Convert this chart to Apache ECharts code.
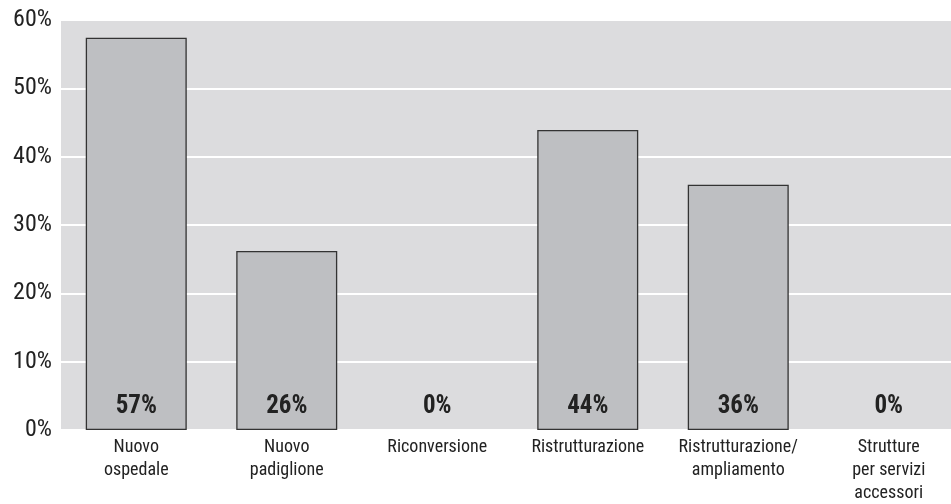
<!DOCTYPE html>
<html><head><meta charset="utf-8">
<script src="https://cdn.jsdelivr.net/npm/echarts@6/dist/echarts.min.js"></script>
<style>html,body{margin:0;padding:0;background:#fff}#c{width:951px;height:504px}</style>
</head><body><div id="c"></div>
<script>
var categories = ['Nuovo\nospedale', 'Nuovo\npadiglione', 'Riconversione', 'Ristrutturazione', 'Ristrutturazione/\nampliamento', 'Strutture\nper servizi\naccessori'];
var values = [57.4, 26.2, 0, 43.9, 35.9, 0];
var labels = ['57%', '26%', '0%', '44%', '36%', '0%'];
var yTicks = [0, 10, 20, 30, 40, 50, 60];
var font = '"Liberation Sans Narrow", "Roboto Condensed", Roboto, sans-serif';
var chart = echarts.init(document.getElementById('c'));
chart.setOption({
  animation: false,
  grid: { left: 61, width: 903, top: 20, height: 410, show: true, backgroundColor: '#dcdcde', borderWidth: 0, outerBoundsMode: 'none', containLabel: false },
  xAxis: {
    type: 'category', data: categories,
    axisLine: { show: false }, axisTick: { show: false },
    axisLabel: { interval: 0, fontFamily: font, fontSize: 18, color: '#222', lineHeight: 23, margin: 6 }
  },
  yAxis: {
    type: 'value', min: 0, max: 60, interval: 10,
    axisLine: { show: false }, axisTick: { show: false },
    splitLine: { lineStyle: { color: '#ffffff', width: 2 } },
    axisLabel: { fontFamily: font, fontSize: 24, color: '#222', margin: 9,
      formatter: function (v) { return yTicks.indexOf(v) >= 0 ? v + '%' : ''; } }
  },
  series: [{
    type: 'bar', barWidth: 101,
    data: values.map(function (v) {
      return { value: v, itemStyle: { borderWidth: v === 0 ? 0 : 1.3 } };
    }),
    itemStyle: { color: '#bebfc2', borderColor: '#333' },
    label: { show: true, position: 'insideBottom', distance: 11, fontFamily: font, fontWeight: 'bold', fontSize: 25, color: '#222',
      formatter: function (p) { return labels[p.dataIndex]; } }
  }]
});
</script></body></html>
